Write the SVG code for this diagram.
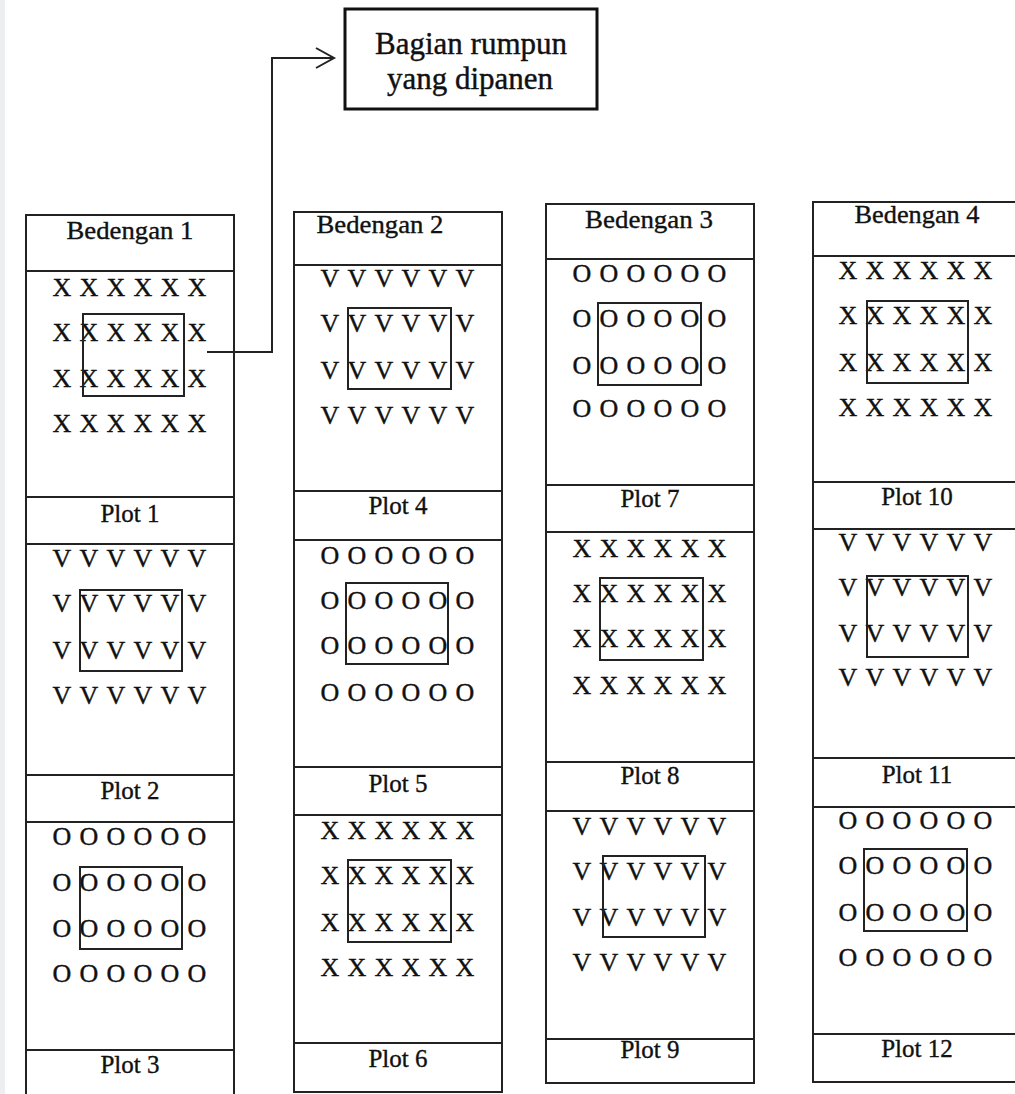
<svg xmlns="http://www.w3.org/2000/svg" width="1015" height="1094" viewBox="0 0 1015 1094">
<style>
.frame{fill:none;stroke:#222;stroke-width:2}
.sep{stroke:#222;stroke-width:2}
.ibox{fill:none;stroke:#222;stroke-width:2}
.t{font-size:26px;fill:#111;stroke:#111;stroke-width:0.4;text-anchor:middle}
.lbl{font-size:25px;fill:#111;stroke:#111;stroke-width:0.35;text-anchor:middle}
.call{font-size:31px;fill:#111;stroke:#111;stroke-width:0.4;text-anchor:middle}
.conn{fill:none;stroke:#222;stroke-width:2}
</style>
<defs>
<marker id="arr" markerUnits="userSpaceOnUse" markerWidth="22" markerHeight="24" refX="19" refY="11" orient="auto">
<path d="M1,1 L19,11 L1,21" fill="none" stroke="#222" stroke-width="2"/>
</marker>
</defs>
<rect x="0" y="0" width="1015" height="1094" fill="#fff"/>
<rect x="0" y="0" width="5" height="1094" fill="#eceef1"/>
<g font-family="'Liberation Serif', 'Times New Roman', 'DejaVu Serif', serif">

<g id="callout">
<rect x="345" y="9" width="252" height="100" fill="#fff" stroke="#111" stroke-width="3"/>
<text class="call" x="471" y="54">Bagian rumpun</text>
<text class="call" x="470" y="89">yang dipanen</text>
</g>

<g id="connectors">
<polyline class="conn" points="207,352 272,352 272,58 334,58" marker-end="url(#arr)"/>
</g>

<g id="bedengan1">
<rect class="frame" x="26" y="215" width="208" height="890"/>
<text class="lbl" x="130" y="239" textLength="127" lengthAdjust="spacingAndGlyphs">Bedengan 1</text>
<line class="sep" x1="26" y1="271" x2="234" y2="271"/>
<g id="plot1">
<text class="t" x="62 89 116 143 170 197" y="296">XXXXXX</text>
<text class="t" x="62 89 116 143 170 197" y="341">XXXXXX</text>
<text class="t" x="62 89 116 143 170 197" y="387">XXXXXX</text>
<text class="t" x="62 89 116 143 170 197" y="432">XXXXXX</text>
<rect class="ibox" x="83" y="314" width="101" height="82"/>
<line class="sep" x1="26" y1="497" x2="234" y2="497"/>
<text class="lbl" x="130" y="522">Plot 1</text>
<line class="sep" x1="26" y1="544" x2="234" y2="544"/>
</g>
<g id="plot2">
<text class="t" x="62 89 116 143 170 197" y="567">VVVVVV</text>
<text class="t" x="62 89 116 143 170 197" y="612">VVVVVV</text>
<text class="t" x="62 89 116 143 170 197" y="659">VVVVVV</text>
<text class="t" x="62 89 116 143 170 197" y="704">VVVVVV</text>
<rect class="ibox" x="80" y="590" width="102" height="81"/>
<line class="sep" x1="26" y1="775" x2="234" y2="775"/>
<text class="lbl" x="130" y="799">Plot 2</text>
<line class="sep" x1="26" y1="822" x2="234" y2="822"/>
</g>
<g id="plot3">
<text class="t" x="62 89 116 143 170 197" y="845">OOOOOO</text>
<text class="t" x="62 89 116 143 170 197" y="891">OOOOOO</text>
<text class="t" x="62 89 116 143 170 197" y="937">OOOOOO</text>
<text class="t" x="62 89 116 143 170 197" y="982">OOOOOO</text>
<rect class="ibox" x="80" y="867" width="102" height="82"/>
<line class="sep" x1="26" y1="1050" x2="234" y2="1050"/>
<text class="lbl" x="130" y="1073">Plot 3</text>
</g>
</g>

<g id="bedengan2">
<rect class="frame" x="294" y="212" width="208" height="880"/>
<text class="lbl" x="380" y="233" textLength="127" lengthAdjust="spacingAndGlyphs">Bedengan 2</text>
<line class="sep" x1="294" y1="265" x2="502" y2="265"/>
<g id="plot4">
<text class="t" x="330 357 384 411 438 465" y="287">VVVVVV</text>
<text class="t" x="330 357 384 411 438 465" y="332">VVVVVV</text>
<text class="t" x="330 357 384 411 438 465" y="379">VVVVVV</text>
<text class="t" x="330 357 384 411 438 465" y="424">VVVVVV</text>
<rect class="ibox" x="348" y="308" width="103" height="81"/>
<line class="sep" x1="294" y1="491" x2="502" y2="491"/>
<text class="lbl" x="398" y="514">Plot 4</text>
<line class="sep" x1="294" y1="540" x2="502" y2="540"/>
</g>
<g id="plot5">
<text class="t" x="330 357 384 411 438 465" y="564">OOOOOO</text>
<text class="t" x="330 357 384 411 438 465" y="609">OOOOOO</text>
<text class="t" x="330 357 384 411 438 465" y="654">OOOOOO</text>
<text class="t" x="330 357 384 411 438 465" y="701">OOOOOO</text>
<rect class="ibox" x="346" y="583" width="102" height="81"/>
<line class="sep" x1="294" y1="767" x2="502" y2="767"/>
<text class="lbl" x="398" y="792">Plot 5</text>
<line class="sep" x1="294" y1="815" x2="502" y2="815"/>
</g>
<g id="plot6">
<text class="t" x="330 357 384 411 438 465" y="839">XXXXXX</text>
<text class="t" x="330 357 384 411 438 465" y="884">XXXXXX</text>
<text class="t" x="330 357 384 411 438 465" y="931">XXXXXX</text>
<text class="t" x="330 357 384 411 438 465" y="976">XXXXXX</text>
<rect class="ibox" x="348" y="860" width="103" height="82"/>
<line class="sep" x1="294" y1="1043" x2="502" y2="1043"/>
<text class="lbl" x="398" y="1067">Plot 6</text>
</g>
</g>

<g id="bedengan3">
<rect class="frame" x="546" y="204" width="208" height="879"/>
<text class="lbl" x="649" y="228" textLength="128" lengthAdjust="spacingAndGlyphs">Bedengan 3</text>
<line class="sep" x1="546" y1="259" x2="754" y2="259"/>
<g id="plot7">
<text class="t" x="582 609 636 663 690 717" y="282">OOOOOO</text>
<text class="t" x="582 609 636 663 690 717" y="327">OOOOOO</text>
<text class="t" x="582 609 636 663 690 717" y="374">OOOOOO</text>
<text class="t" x="582 609 636 663 690 717" y="417">OOOOOO</text>
<rect class="ibox" x="598" y="303" width="103" height="82"/>
<line class="sep" x1="546" y1="485" x2="754" y2="485"/>
<text class="lbl" x="650" y="507">Plot 7</text>
<line class="sep" x1="546" y1="532" x2="754" y2="532"/>
</g>
<g id="plot8">
<text class="t" x="582 609 636 663 690 717" y="557">XXXXXX</text>
<text class="t" x="582 609 636 663 690 717" y="602">XXXXXX</text>
<text class="t" x="582 609 636 663 690 717" y="647">XXXXXX</text>
<text class="t" x="582 609 636 663 690 717" y="694">XXXXXX</text>
<rect class="ibox" x="600" y="578" width="103" height="82"/>
<line class="sep" x1="546" y1="762" x2="754" y2="762"/>
<text class="lbl" x="650" y="784">Plot 8</text>
<line class="sep" x1="546" y1="811" x2="754" y2="811"/>
</g>
<g id="plot9">
<text class="t" x="582 609 636 663 690 717" y="835">VVVVVV</text>
<text class="t" x="582 609 636 663 690 717" y="880">VVVVVV</text>
<text class="t" x="582 609 636 663 690 717" y="926">VVVVVV</text>
<text class="t" x="582 609 636 663 690 717" y="971">VVVVVV</text>
<rect class="ibox" x="603" y="856" width="102" height="81"/>
<line class="sep" x1="546" y1="1039" x2="754" y2="1039"/>
<text class="lbl" x="650" y="1058">Plot 9</text>
</g>
</g>

<g id="bedengan4">
<rect class="frame" x="813" y="202" width="208" height="880"/>
<text class="lbl" x="917" y="223" textLength="125" lengthAdjust="spacingAndGlyphs">Bedengan 4</text>
<line class="sep" x1="813" y1="256" x2="1021" y2="256"/>
<g id="plot10">
<text class="t" x="848 875 902 929 956 983" y="279">XXXXXX</text>
<text class="t" x="848 875 902 929 956 983" y="324">XXXXXX</text>
<text class="t" x="848 875 902 929 956 983" y="371">XXXXXX</text>
<text class="t" x="848 875 902 929 956 983" y="416">XXXXXX</text>
<rect class="ibox" x="867" y="301" width="101" height="82"/>
<line class="sep" x1="813" y1="482" x2="1021" y2="482"/>
<text class="lbl" x="917" y="505">Plot 10</text>
<line class="sep" x1="813" y1="529" x2="1021" y2="529"/>
</g>
<g id="plot11">
<text class="t" x="848 875 902 929 956 983" y="551">VVVVVV</text>
<text class="t" x="848 875 902 929 956 983" y="596">VVVVVV</text>
<text class="t" x="848 875 902 929 956 983" y="642">VVVVVV</text>
<text class="t" x="848 875 902 929 956 983" y="686">VVVVVV</text>
<rect class="ibox" x="867" y="576" width="101" height="81"/>
<line class="sep" x1="813" y1="758" x2="1021" y2="758"/>
<text class="lbl" x="917" y="783">Plot 11</text>
<line class="sep" x1="813" y1="807" x2="1021" y2="807"/>
</g>
<g id="plot12">
<text class="t" x="848 875 902 929 956 983" y="829">OOOOOO</text>
<text class="t" x="848 875 902 929 956 983" y="874">OOOOOO</text>
<text class="t" x="848 875 902 929 956 983" y="921">OOOOOO</text>
<text class="t" x="848 875 902 929 956 983" y="966">OOOOOO</text>
<rect class="ibox" x="864" y="849" width="103" height="82"/>
<line class="sep" x1="813" y1="1034" x2="1021" y2="1034"/>
<text class="lbl" x="917" y="1057">Plot 12</text>
</g>
</g>
</g>
</svg>
